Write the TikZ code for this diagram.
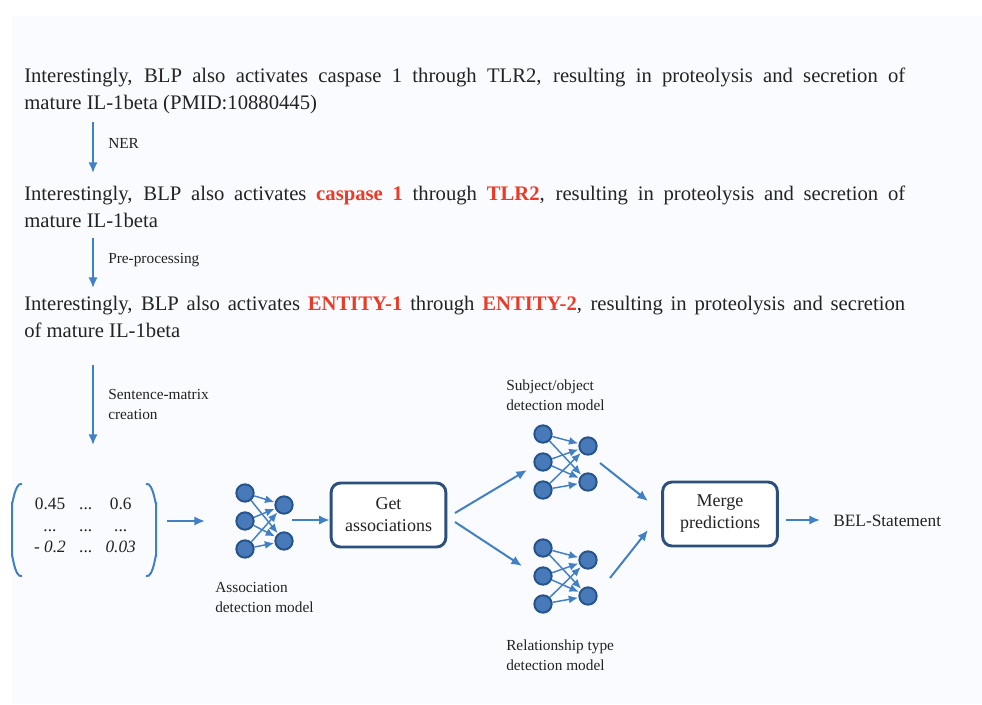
\documentclass[tikz,border=0pt]{standalone}
\usepackage{fontspec}
\setmainfont{Liberation Serif}
\usepackage{tikz}
\usetikzlibrary{arrows.meta}
\usepackage{xcolor}

\definecolor{bgpale}{RGB}{250,251,254}
\definecolor{txtgray}{RGB}{35,35,35}
\definecolor{entred}{RGB}{236,58,36}
\definecolor{flowblue}{RGB}{66,128,198}
\definecolor{cellblue}{RGB}{72,122,186}
\definecolor{celledge}{RGB}{38,84,140}
\definecolor{boxedge}{RGB}{44,80,124}

\newcommand{\ent}[1]{\textbf{\color{entred}#1}}

% small neural net: name, x, y, output offset
\newcommand{\nnet}[4]{
	\node[cell] (#1-i1) at (#2,#3-28) {};
	\node[cell] (#1-i2) at (#2,#3) {};
	\node[cell] (#1-i3) at (#2,#3+28) {};
	\node[cell] (#1-o1) at (#2+#4,#3-16) {};
	\node[cell] (#1-o2) at (#2+#4,#3+20) {};
	\foreach \i in {1,2,3}{
		\foreach \o in {1,2}{
			\draw[link] (#1-i\i) -- (#1-o\o);
		}
	}
}

\begin{document}
\begin{tikzpicture}[x=0.75pt,y=0.75pt,yscale=-1,xscale=1,
	para/.style={anchor=north west,inner sep=0pt,text width=660.75pt,align=justify,text=txtgray,font=\fontsize{15.5}{20.25}\selectfont},
	lab/.style={anchor=west,inner sep=0pt,align=left,text=txtgray,font=\fontsize{11.5}{15}\selectfont},
	flow/.style={draw=flowblue,line width=1.5pt,-{Latex[length=8pt,width=7pt]}},
	link/.style={draw=flowblue,line width=1.1pt,-{Latex[length=7pt,width=6pt]},shorten >=0.3pt},
	cell/.style={circle,fill=cellblue,draw=celledge,line width=1.5pt,minimum size=13pt,inner sep=0pt},
	stepbox/.style={draw=boxedge,line width=2.2pt,rounded corners=7pt,fill=white,minimum width=86pt,minimum height=48pt,align=center,text=txtgray,font=\fontsize{13.5}{16.5}\selectfont}
	]

	% background
	\fill[bgpale] (12,16) rectangle (982,704);
	\useasboundingbox (0,0) rectangle (982,704);

	% Text Node
	\node[para] (raw) at (24,68) {Interestingly, BLP also activates caspase 1 through TLR2, resulting in proteolysis and secretion of\linebreak mature IL-1beta (PMID:10880445)};
	% Text Node
	\node[para] (tagged) at (24,186) {Interestingly, BLP also activates \ent{caspase 1} through \ent{TLR2}, resulting in proteolysis and secretion of\linebreak mature IL-1beta};
	% Text Node
	\node[para] (masked) at (24,296) {Interestingly, BLP also activates \ent{ENTITY-1} through \ent{ENTITY-2}, resulting in proteolysis and secretion\linebreak of mature IL-1beta};

	% steps between sentences
	\coordinate (ner-s) at (93,122);
	\coordinate (ner-e) at (93,173);
	\coordinate (pre-s) at (93,238);
	\coordinate (pre-e) at (93,288);
	\coordinate (smc-s) at (93,365);
	\coordinate (smc-e) at (93,445);
	\draw[flow] (ner-s) -- (ner-e);
	\draw[flow] (pre-s) -- (pre-e);
	\draw[flow] (smc-s) -- (smc-e);
	\node[lab] (ner) at (108,143) {NER};
	\node[lab] (pre) at (108,260) {Pre-processing};
	\node[lab] (smc) at (108,404) {Sentence-matrix\\creation};

	% sentence matrix
	\node[inner sep=0pt,text=txtgray,font=\fontsize{13}{16}\selectfont] (mat) at (85,527) {\begin{tabular}{@{}c@{\hspace{10pt}}c@{\hspace{10pt}}c@{}}
		0.45 & ... & 0.6\\
		... & ... & ...\\
		\textit{- 0.2} & ... & \textit{0.03}
	\end{tabular}};
	\draw[flowblue,line width=1.5pt] (22,484) to[out=200,in=90] (12,502) -- (12,557) to[out=-90,in=160] (22,576);
	\draw[flowblue,line width=1.5pt] (146,484) to[out=-20,in=90] (156,502) -- (156,557) to[out=-90,in=20] (146,576);

	% association model
	\nnet{assoc}{245}{521}{39}
	\node[lab] (assoc-lab) at (215,597) {Association\\detection model};

	% subject/object model
	\nnet{subj}{543}{462}{45}
	\node[lab] (subj-lab) at (506,395) {Subject/object\\detection model};

	% relationship model
	\nnet{rel}{543}{576}{45}
	\node[lab] (rel-lab) at (506,655) {Relationship type\\detection model};

	% boxes
	\node[stepbox] (getassoc) at (388.5,515) {Get\\associations};
	\node[stepbox] (merge) at (720,514) {Merge\\predictions};
	\node[anchor=west,inner sep=0pt,text=txtgray,font=\fontsize{13}{16}\selectfont] (bel) at (833,521) {BEL-Statement};

	% flow arrows
	\coordinate (m-out) at (167,521);
	\coordinate (m-in) at (205,521);
	\draw[flow] (m-out) -- (m-in);
	\coordinate (a-out) at (292,520);
	\draw[flow] (a-out) -- (a-out -| getassoc.west);
	\coordinate (g-up) at (455,513);
	\coordinate (g-dn) at (455,522);
	\coordinate (s-in) at (527,470);
	\coordinate (r-in) at (522,566);
	\draw[flow] (g-up) -- (s-in);
	\draw[flow] (g-dn) -- (r-in);
	\coordinate (s-out) at (600,463);
	\coordinate (r-out) at (610,578);
	\coordinate (mg-up) at (648,501);
	\coordinate (mg-dn) at (648,530);
	\draw[flow] (s-out) -- (mg-up);
	\draw[flow] (r-out) -- (mg-dn);
	\coordinate (mg-out) at (786,520);
	\coordinate (b-in) at (820,520);
	\draw[flow] (mg-out) -- (b-in);

\end{tikzpicture}
\end{document}
